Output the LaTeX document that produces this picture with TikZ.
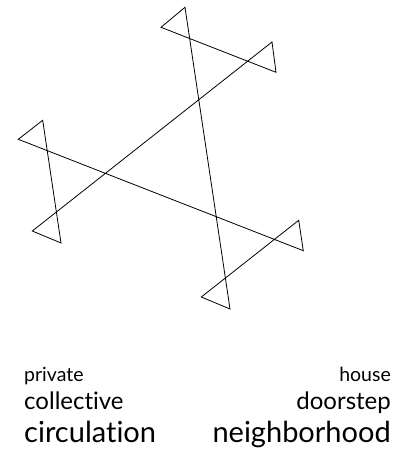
\documentclass[tikz,border=0pt]{standalone}
\usepackage{fontspec}
\setmainfont{Lato}[Ligatures=NoCommon]
\usepackage{tikz}

\begin{document}
\begin{tikzpicture}[x=1pt,y=-1pt,
    word/.style={inner sep=0pt},
    small/.style={word,font=\fontsize{19.5}{19.5}\selectfont},
    medium/.style={word,font=\fontsize{24}{24}\selectfont},
    large/.style={word,font=\fontsize{29}{29}\selectfont}]
    \useasboundingbox (0,0) rectangle (394,468);
    % Corners of the knotted triangle
    \coordinate (a) at (185,7.3);
    \coordinate (b) at (161,27.3);
    \coordinate (c) at (276,72.3);
    \coordinate (d) at (272,42);
    \coordinate (e) at (32.3,231);
    \coordinate (f) at (61,243);
    \coordinate (g) at (42.7,120.3);
    \coordinate (h) at (18.3,139.3);
    \coordinate (i) at (303.3,250.7);
    \coordinate (j) at (298.7,220.3);
    \coordinate (k) at (201.3,297);
    \coordinate (l) at (230,309);
    % One closed line
    \draw[line width=0.8pt, line join=miter]
        (a) -- (b) -- (c) -- (d) -- (e) -- (f) -- (g) -- (h)
        -- (i) -- (j) -- (k) -- (l) -- cycle;

    % Labels on the left
    \node[small, anchor=base west] (private) at (24,381) {private};
    \node[medium, anchor=base west] (collective) at (24,409) {collective};
    \node[large, anchor=base west] (circulation) at (24,442) {circulation};

    % Labels on the right
    \node[small, anchor=base east] (house) at (391,381) {house};
    \node[medium, anchor=base east] (doorstep) at (391,409) {doorstep};
    \node[large, anchor=base east] (neighborhood) at (391,442) {neighborhood};
\end{tikzpicture}
\end{document}
